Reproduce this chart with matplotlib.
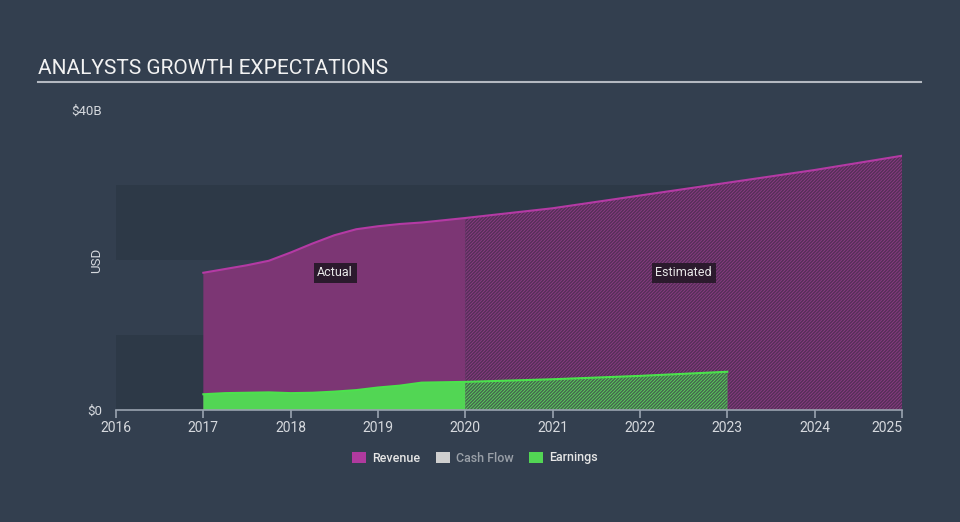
import matplotlib.pyplot as plt
from matplotlib.patches import Patch

plt.rcParams['font.family'] = ['Roboto', 'DejaVu Sans']
plt.rcParams['hatch.linewidth'] = 1.1

# revenue, USD billions
rev_act_x = [2017.0, 2017.25, 2017.5, 2017.75, 2018.0, 2018.25, 2018.5, 2018.75,
             2019.0, 2019.25, 2019.5, 2019.75, 2020.0]
rev_act_y = [18.3, 18.8, 19.3, 19.9, 21.0, 22.2, 23.3, 24.1, 24.5, 24.8, 25.0, 25.3, 25.6]
rev_est_x = [2020.0, 2021.0, 2022.0, 2023.0, 2024.0, 2025.0]
rev_est_y = [25.6, 26.9, 28.6, 30.3, 32.0, 33.9]

# earnings, USD billions
earn_act_x = rev_act_x
earn_act_y = [2.1, 2.25, 2.3, 2.35, 2.25, 2.3, 2.45, 2.65, 3.0, 3.25, 3.65, 3.7, 3.75]
earn_est_x = [2020.0, 2021.0, 2022.0, 2023.0]
earn_est_y = [3.75, 4.1, 4.55, 5.1]

years = [2016, 2017, 2018, 2019, 2020, 2021, 2022, 2023, 2024, 2025]

bg = '#333f4f'
band = '#2d3947'
purple = '#7c3674'
purple_line = '#b43aa4'
green = '#52d654'
green_line = '#4be24c'
text_col = '#d6d9de'

fig = plt.figure(figsize=(9.6, 5.22), dpi=100, facecolor=bg)
ax = fig.add_axes([116 / 960, 112 / 522, 786 / 960, 300 / 522])
ax.set_facecolor('none')

ax.set_xlim(2016, 2025)
ax.set_ylim(0, 40)

# background bands
ax.axhspan(0, 10, color=band, lw=0, zorder=0)
ax.axhspan(20, 30, color=band, lw=0, zorder=0)

# revenue
ax.fill_between(rev_act_x, 0, rev_act_y, facecolor=purple, lw=0, zorder=1)
ax.fill_between(rev_est_x, 0, rev_est_y, facecolor='#8e3b86', edgecolor='#553058',
                hatch='/' * 10, lw=0, zorder=1)
ax.plot(rev_act_x + rev_est_x, rev_act_y + rev_est_y, color=purple_line, lw=1.5, zorder=3)

# earnings
ax.fill_between(earn_act_x, 0, earn_act_y, facecolor=green, lw=0, zorder=2)
ax.fill_between(earn_est_x, 0, earn_est_y, facecolor='#5ad85c', edgecolor='#46664f',
                hatch='/' * 10, lw=0, zorder=2)
ax.plot(earn_act_x + earn_est_x, earn_act_y + earn_est_y, color=green_line, lw=1.5, zorder=3)

# axes styling
for s in ['top', 'right', 'left']:
    ax.spines[s].set_visible(False)
ax.spines['bottom'].set_color('#9aa3b0')
ax.spines['bottom'].set_linewidth(1.2)
ax.spines['bottom'].set_zorder(4)
ax.set_xticks(years)
ax.set_xticklabels([str(y) for y in years])
ax.tick_params(axis='x', colors='#9aa3b0', labelcolor=text_col, labelsize=10,
               length=6, width=1.2, pad=2)
ax.get_xticklabels()[-1].set_horizontalalignment('right')
ax.set_yticks([0, 40])
ax.set_yticklabels(['$0', '$40B'])
ax.tick_params(axis='y', length=0, labelcolor=text_col, labelsize=9.5, pad=10)
ax.set_ylabel('USD', color=text_col, fontsize=9.5)
ax.yaxis.set_label_coords(-0.017, 0.5)

# period labels
box = dict(boxstyle='square,pad=0.3', facecolor='#2b1a2d', edgecolor='none')
ax.text(2018.51, 18.3, 'Actual', color='#e8e8e8', fontsize=9, ha='center',
        va='center', bbox=box, zorder=5)
ax.text(2022.5, 18.3, 'Estimated', color='#e8e8e8', fontsize=9, ha='center',
        va='center', bbox=box, zorder=5)

# title and rule
fig.text(38 / 960, 1 - 68 / 522, 'ANALYSTS GROWTH EXPECTATIONS', color='#f2f2f2',
         fontsize=15, ha='left', va='center')
fig.add_artist(plt.Line2D([38 / 960, 921 / 960], [1 - 82 / 522, 1 - 82 / 522],
                          color='#b4b9c1', lw=1.5))

# legend
handles = [Patch(facecolor='#b03a9e', edgecolor='none', label='Revenue'),
           Patch(facecolor='#cfcfcf', edgecolor='none', label='Cash Flow'),
           Patch(facecolor=green, edgecolor='none', label='Earnings')]
leg = fig.legend(handles=handles, loc='center', bbox_to_anchor=(475 / 960, 1 - 458 / 522),
                 ncol=3, frameon=False, fontsize=9, handlelength=1.15, handleheight=0.95,
                 handletextpad=0.5, columnspacing=1.2)
for t, c in zip(leg.get_texts(), ['#e6e6e6', '#9aa0a8', '#e6e6e6']):
    t.set_color(c)
    t.set_fontweight('medium')

fig.savefig('out.png', dpi=100, facecolor=bg)
